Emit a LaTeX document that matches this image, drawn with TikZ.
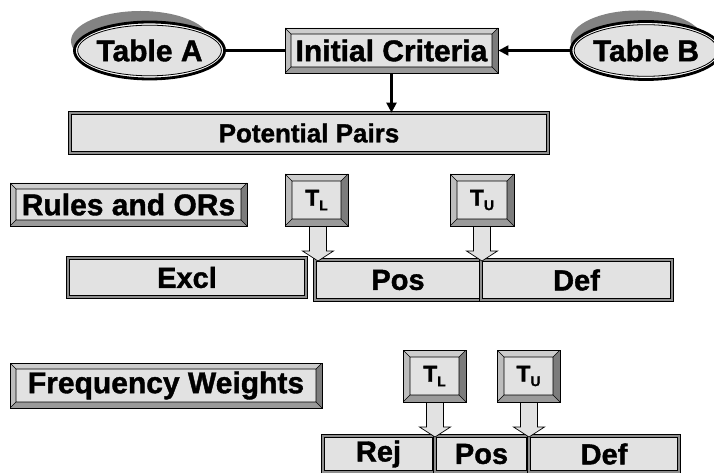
\documentclass[tikz,border=0pt]{standalone}
\usepackage{fontspec}
\setmainfont{Liberation Sans}[BoldFeatures={FakeBold=1.3}]
\usetikzlibrary{shapes.geometric,arrows.meta,calc}

\definecolor{face}{HTML}{E2E2E2}
\definecolor{bevtop}{HTML}{CDCDCD}
\definecolor{bevleft}{HTML}{BDBDBD}
\definecolor{bevright}{HTML}{7C7C7C}
\definecolor{bevbot}{HTML}{9A9A9A}
\definecolor{shadowgray}{HTML}{838383}
\definecolor{bandgray}{HTML}{8E8E8E}

% bevelled border of a raised button, drawn inside the node's path
\newcommand\bevelparts[1]{%
  \coordinate (oNW) at (path picture bounding box.north west);
  \coordinate (oNE) at (path picture bounding box.north east);
  \coordinate (oSW) at (path picture bounding box.south west);
  \coordinate (oSE) at (path picture bounding box.south east);
  \coordinate (iNW) at ([shift={(#1,-#1)}]oNW);
  \coordinate (iNE) at ([shift={(-#1,-#1)}]oNE);
  \coordinate (iSW) at ([shift={(#1,#1)}]oSW);
  \coordinate (iSE) at ([shift={(-#1,#1)}]oSE);
  \fill[bevtop] (oNW) -- (oNE) -- (iNE) -- (iNW) -- cycle;
  \fill[bevleft] (oNW) -- (iNW) -- (iSW) -- (oSW) -- cycle;
  \fill[bevright] (oNE) -- (oSE) -- (iSE) -- (iNE) -- cycle;
  \fill[bevbot] (oSW) -- (iSW) -- (iSE) -- (oSE) -- cycle;
  \draw[line width=0.6pt] (iNW) rectangle (iSE)
    (oNW) -- (iNW) (oNE) -- (iNE) (oSW) -- (iSW) (oSE) -- (iSE);
}

\tikzset{
  txt/.style={font=\bfseries\fontsize{#1}{#1}\selectfont},
  raised/.style={draw=black, line width=0.9pt, fill=face, inner sep=0pt,
    path picture={\bevelparts{#1}}},
  raised/.default=6pt,
  framed/.style={draw=black, line width=0.7pt, double=bandgray,
    double distance=1.7pt, fill=face, inner sep=0pt, txt=29},
  oval/.style={ellipse, draw=black, line width=2.8pt, fill=face, inner sep=0pt,
    txt=30, path picture={
      \draw[white, line width=1.1pt]
        let \p1=(path picture bounding box.north east),
            \p2=(path picture bounding box.center) in
        (\p2) ellipse [x radius=\x1-\x2-2pt, y radius=\y1-\y2-2pt];
      \draw[black, line width=0.8pt]
        let \p1=(path picture bounding box.north east),
            \p2=(path picture bounding box.center) in
        (\p2) ellipse [x radius=\x1-\x2-3.2pt, y radius=\y1-\y2-3.2pt];}},
  conn/.style={line width=2.2pt},
  tip/.style={-{Triangle[length=10pt,width=10pt]}},
  fatarrow/.style={fill=face, draw=black, line width=0.7pt, line join=miter},
}

% block arrow from the bottom of a node down to a tip coordinate
\newcommand\fatarrow[2]{%
  \draw[fatarrow] let \p1=(#1.south), \p2=(#2) in
    (\x2-8.5pt,\y1) -- (\x2-8.5pt,\y2+10pt) -- (\x2-15.5pt,\y2+10pt) --
    (\x2,\y2) -- (\x2+15.5pt,\y2+10pt) -- (\x2+8.5pt,\y2+10pt) --
    (\x2+8.5pt,\y1) -- cycle;}

\newcommand\thr[1]{T\raisebox{-4.5pt}{\fontsize{14}{14}\selectfont #1}}

\begin{document}
\begin{tikzpicture}[x=1pt, y=-1pt]
\useasboundingbox (0,0) rectangle (714,473);

% source tables with their shadows
\fill[shadowgray] (140.5,41) ellipse [x radius=69.5pt, y radius=30pt];
\fill[shadowgray] (637,41) ellipse [x radius=66.5pt, y radius=30.5pt];
\node[oval, minimum width=136pt, minimum height=57pt] (ta) at (149.5,50.5) {Table A};
\node[oval, minimum width=130pt, minimum height=58pt] (tb) at (646,50.5) {Table B};

\node[raised, txt=30, minimum width=213pt, minimum height=45pt] (ic) at (391.5,50.5) {Initial Criteria};
\node[framed, txt=26, minimum width=478pt, minimum height=40pt] (pp) at (309,133) {Potential Pairs};

\draw[conn] (ta) -- (ic);
\draw[conn, tip] (tb) -- (ic);
\draw[conn, tip] (ic.south) -- (ic.south |- pp.north);

% rules and odds ratios
\node[raised, txt=30, minimum width=237pt, minimum height=43pt] (ro) at (128.5,204.5) {Rules and ORs};
\node[raised=7pt, txt=23, minimum width=63pt, minimum height=52pt] (tl1) at (316.5,200) {\thr{L}};
\node[raised=7pt, txt=23, minimum width=64pt, minimum height=52pt] (tu1) at (482,200) {\thr{U}};

\node[framed, minimum width=238pt, minimum height=39pt] (ex1) at (187,277.5) {Excl};
\node[framed, minimum width=166pt, minimum height=40pt] (po1) at (398,280) {Pos};
\node[framed, minimum width=191pt, minimum height=40pt] (de1) at (576.5,280) {Def};

\coordinate (k1) at (318,261);
\coordinate (k2) at (482,261);
\fatarrow{tl1}{k1}
\fatarrow{tu1}{k2}

% frequency weights
\node[raised, txt=30, minimum width=312pt, minimum height=45pt] (fw) at (166,385.5) {Frequency Weights};
\node[raised=7pt, txt=23, minimum width=63pt, minimum height=52pt] (tl2) at (434.5,376) {\thr{L}};
\node[raised=7pt, txt=23, minimum width=63pt, minimum height=52pt] (tu2) at (528.5,376) {\thr{U}};

\node[framed, minimum width=111pt, minimum height=36pt] (rj2) at (378.5,454) {Rej};
\node[framed, minimum width=93pt, minimum height=36pt] (po2) at (481.5,454) {Pos};
\node[framed, minimum width=150pt, minimum height=36pt] (de2) at (604,454) {Def};

\coordinate (k3) at (435,437);
\coordinate (k4) at (529,437);
\fatarrow{tl2}{k3}
\fatarrow{tu2}{k4}
\end{tikzpicture}
\end{document}
